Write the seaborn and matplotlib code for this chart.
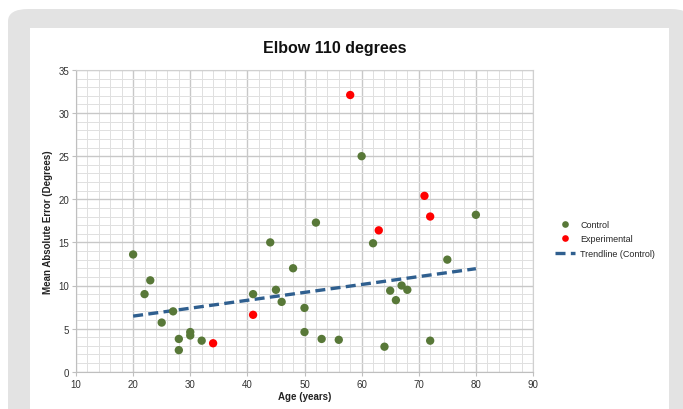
import numpy as np
import pandas as pd
import matplotlib.pyplot as plt
import seaborn as sns
from matplotlib.patches import FancyBboxPatch
from matplotlib.ticker import MultipleLocator

sns.set_theme(style="white")
plt.rcParams["font.family"] = ["Liberation Sans", "DejaVu Sans"]

# valores
idade_controle = [20, 22, 23, 25, 27, 28, 28, 30, 30, 32, 41, 44, 45, 46, 48, 50, 50,
                  52, 53, 56, 60, 62, 64, 65, 66, 67, 68, 72, 75, 80]
erro_controle = [13.6, 9.0, 10.6, 5.7, 7.0, 3.8, 2.5, 4.6, 4.2, 3.6, 9.0, 15.0, 9.5, 8.1, 12.0, 7.4, 4.6,
                 17.3, 3.8, 3.7, 25.0, 14.9, 2.9, 9.4, 8.3, 10.0, 9.5, 3.6, 13.0, 18.2]
idade_experimental = [34, 41, 58, 63, 71, 72]
erro_experimental = [3.3, 6.6, 32.1, 16.4, 20.4, 18.0]
tendencia_idade = [20, 80]
tendencia_erro = [6.45, 11.95]

df_pontos = pd.DataFrame({
    "idade": idade_controle + idade_experimental,
    "erro": erro_controle + erro_experimental,
    "grupo": ["Control"] * len(idade_controle) + ["Experimental"] * len(idade_experimental),
})
df_tendencia = pd.DataFrame({"idade": tendencia_idade, "erro": tendencia_erro})

fig = plt.figure(figsize=(6.83, 4.10), dpi=100)
fig.patch.set_facecolor("white")

W, H = 683, 410
fig.patches.append(FancyBboxPatch((8 / W, -0.1), 1.0, 1.1 - 10 / H,
                                  boxstyle="round,pad=0,rounding_size=0.03",
                                  transform=fig.transFigure, facecolor="#e3e3e3",
                                  edgecolor="none", zorder=-10))
fig.patches.append(FancyBboxPatch((30 / W, -0.1), (669 - 30) / W, 0.1 + 1 - 29 / H,
                                  boxstyle="square,pad=0",
                                  transform=fig.transFigure, facecolor="white",
                                  edgecolor="none", zorder=-9))

ax = fig.add_axes([76 / W, 1 - 372.7 / H, 457 / W, (372.7 - 71) / H])
ax.set_facecolor("white")

sns.scatterplot(data=df_pontos, x="idade", y="erro", hue="grupo",
                palette={"Control": "#587838", "Experimental": "#ff0000"},
                s=36, linewidth=0, ax=ax, zorder=3)
sns.lineplot(data=df_tendencia, x="idade", y="erro", color="#2f5f8f", linewidth=2.4,
             linestyle=(0, (3, 1.6)), ax=ax, label="Trendline (Control)", zorder=2)

ax.set_xlim(10, 90)
ax.set_ylim(0, 35)
ax.xaxis.set_major_locator(MultipleLocator(10))
ax.xaxis.set_minor_locator(MultipleLocator(2))
ax.yaxis.set_major_locator(MultipleLocator(5))
ax.yaxis.set_minor_locator(MultipleLocator(1))
ax.grid(which="major", color="#c8c8c8", linewidth=1.0)
ax.grid(which="minor", color="#e0e0e0", linewidth=0.7)
ax.set_axisbelow(True)

for lado in ["top", "right"]:
    ax.spines[lado].set_color("#d0d0d0")
    ax.spines[lado].set_linewidth(0.8)
for lado in ["left", "bottom"]:
    ax.spines[lado].set_color("#bfbfbf")
    ax.spines[lado].set_linewidth(0.8)

ax.tick_params(axis="both", which="major", labelsize=7, colors="#bfbfbf", labelcolor="#333333",
               length=3, width=0.8, left=True, bottom=True, direction="out", pad=2)
ax.tick_params(axis="both", which="minor", length=0)

ax.set_xlabel("Age (years)", fontsize=7, fontweight="bold", color="#222222", labelpad=2)
ax.set_ylabel("Mean Absolute Error (Degrees)", fontsize=7, fontweight="bold", color="#222222", labelpad=4)

fig.text(335 / W, 1 - 48 / H, "Elbow 110 degrees", ha="center", va="center",
         fontsize=11.5, fontweight="bold", color="#111111")

handles, labels = ax.get_legend_handles_labels()
ax.legend(handles, labels, loc="center left", bbox_to_anchor=(547 / W, 1 - 240 / H),
          bbox_transform=fig.transFigure, frameon=False, fontsize=6.5,
          handlelength=2.2, handletextpad=0.6, labelspacing=0.6, markerscale=0.8)

fig.savefig("out.png", dpi=100)
